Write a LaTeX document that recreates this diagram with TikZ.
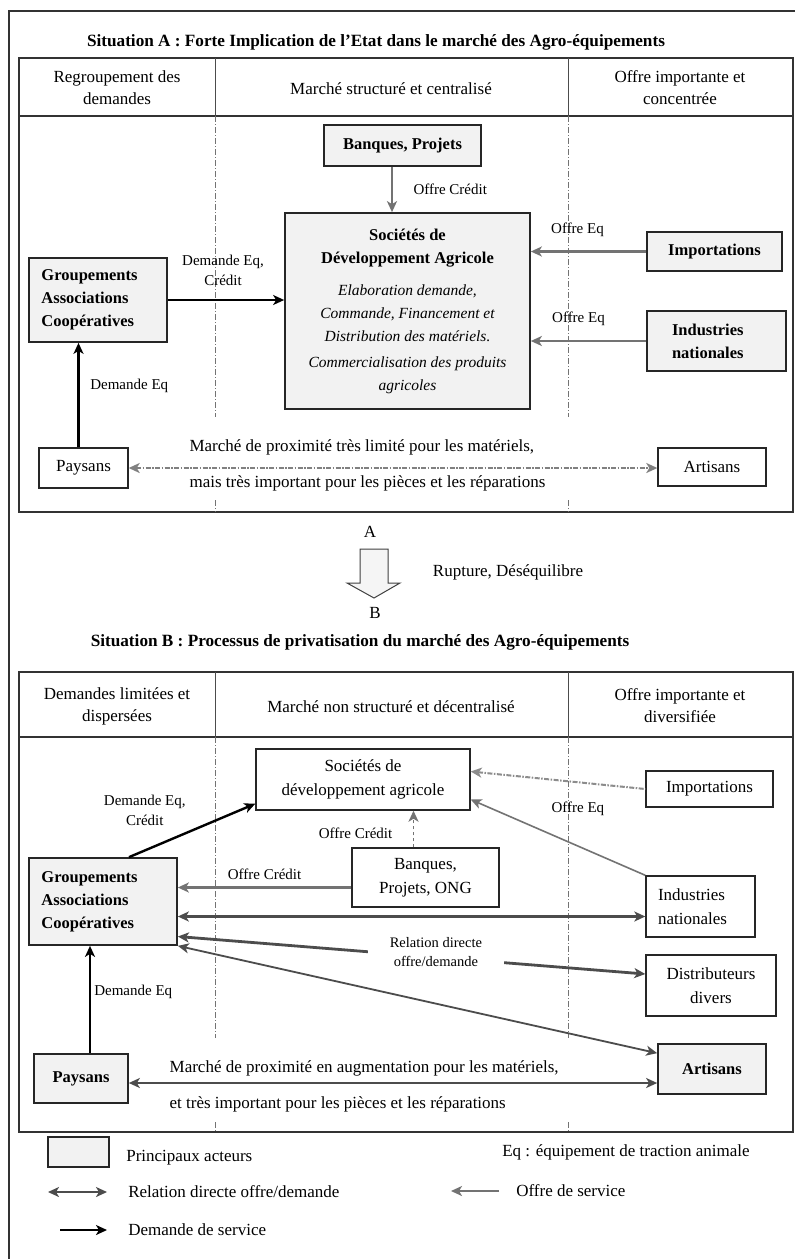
\documentclass[tikz,border=0pt]{standalone}
\usepackage{fontspec}
\setmainfont{Liberation Serif}
\usetikzlibrary{positioning, arrows.meta}

\begin{document}
\begin{tikzpicture}[x=1pt, y=-1pt, semithick,
	tip/.tip={Stealth[length=11pt, width=10pt, inset=3pt]},
	actor/.style ={draw=black!85, line width=1.7pt, fill=black!5, inner sep=0pt, font=\fontsize{16.5}{23}\selectfont\bfseries},
	other/.style ={draw=black!85, line width=1.4pt, fill=white, inner sep=0pt, font=\fontsize{17}{24}\selectfont},
	head/.style ={align=center, font=\fontsize{17}{22}\selectfont},
	title/.style ={font=\fontsize{17.2}{20}\selectfont\bfseries},
	lbl/.style ={align=center, font=\fontsize{15}{20}\selectfont},
	txt/.style ={inner sep=0pt, font=\fontsize{17}{20}\selectfont},
	offre/.style ={-tip, draw=black!55, line width=2.4pt},
	dem/.style ={-tip, draw=black, line width=2.6pt},
	rel/.style ={tip-tip, draw=black!70, line width=2.4pt},
	col/.style ={draw=black!55, line width=0.8pt, dash pattern=on 6pt off 2pt on 1pt off 2pt},
	frame/.style ={draw=black!80, line width=1.6pt}]
	\path[use as bounding box, fill=white] (0,0) rectangle (795,1259);
	\draw[draw=black!80, line width=1.2pt] (9,1259) -- (9,11) -- (795,11);

	% Situation A
	\node[title] (titA) at (376,42) {Situation A : Forte Implication de l'Etat dans le marché des Agro-équipements};
	\draw[frame] (19,58) rectangle (793,512);
	\draw[frame] (19,116) -- (793,116);
	\draw[draw=black!70, line width=1pt] (215,58) -- (215,116) (568,58) -- (568,116);
	\draw[col] (215,116) -- (215,417) (215,500) -- (215,512);
	\draw[col] (568,116) -- (568,417) (568,500) -- (568,512);
	\node[head] (hA1) at (117,88) {Regroupement des\\demandes};
	\node[head] (hA2) at (391,89) {Marché structuré et centralisé};
	\node[head] (hA3) at (680,88) {Offre importante et\\concentrée};

	\node[actor, minimum width=157pt, minimum height=41pt] (banqA) at (402.5,145.5) {Banques, Projets};
	\node[actor, minimum width=245pt, minimum height=196pt, align=center] (socA) at (407.5,311)
		{Sociétés de\\Développement Agricole\\[9pt]
		{\mdseries\itshape\fontsize{15.5}{22}\selectfont Elaboration demande,}\\
		{\mdseries\itshape\fontsize{15.5}{22}\selectfont Commande, Financement et}\\
		{\mdseries\itshape\fontsize{15.5}{22}\selectfont Distribution des matériels.}\\[3pt]
		{\mdseries\itshape\fontsize{15.5}{22}\selectfont Commercialisation des produits}\\
		{\mdseries\itshape\fontsize{15.5}{22}\selectfont agricoles}};
	\node[actor, minimum width=135pt, minimum height=39pt] (impA) at (714.5,251.5) {Importations};
	\node[actor, minimum width=139pt, minimum height=60pt, text width=89pt, align=left] (indA) at (716.5,341) {Industries\\nationales};
	\node[actor, minimum width=138pt, minimum height=84pt, text width=113pt, align=left] (grpA) at (98,300) {Groupements\\Associations\\Coopératives};
	\node[other, minimum width=89pt, minimum height=40pt] (payA) at (83.5,468) {Paysans};
	\node[other, minimum width=108pt, minimum height=38pt] (artA) at (712,467) {Artisans};

	\draw[offre] ([xshift=-10.5pt]banqA.south) -- ([xshift=-10.5pt]banqA.south |- socA.north)
		node[lbl, midway, right=17pt] (lOCA) {Offre Crédit};
	\draw[offre] (impA.west) -- (impA.west -| socA.east)
		node[lbl, midway, above=10pt, xshift=-11pt] (lOEA1) {Offre Eq};
	\draw[offre] (indA.west) -- (indA.west -| socA.east)
		node[lbl, midway, above=11pt, xshift=-10pt] (lOEA2) {Offre Eq};
	\draw[dem] (grpA.east) -- (grpA.east -| socA.west)
		node[lbl, midway, above=10pt, xshift=-3pt] (lDEA) {Demande Eq,\\Crédit};
	\draw[dem, line width=3pt] ([xshift=-5pt]payA.north) -- ([xshift=-5pt]payA.north |- grpA.south)
		node[lbl, midway, right=7pt, yshift=9pt] (lDA) {Demande Eq};
	\draw[tip-tip, draw=black!50, line width=2.2pt, dash pattern=on 5pt off 1.5pt on 1.5pt off 1.5pt]
		(payA.east) -- (payA.east -| artA.west)
		node[txt, pos=0.113, anchor=base west, yshift=17pt] (mA1) {Marché de proximité très limité pour les matériels,}
		node[txt, pos=0.113, anchor=base west, yshift=-19pt] (mA2) {mais très important pour les pièces et les réparations};

	% A vers B
	\node[txt] (lA) at (370,532) {A};
	\draw[draw=black!75, line width=1pt, fill=black!4] (360,549) -- (388,549) -- (388,583) -- (400,583)
		-- (374,598) -- (347,583) -- (360,583) -- cycle;
	\node[txt] (rup) at (508,572) {Rupture, Déséquilibre};
	\node[txt] (lB) at (375,613) {B};

	% Situation B
	\node[title] (titB) at (360,642) {Situation B : Processus de privatisation du marché des Agro-équipements};
	\draw[frame] (19,672) rectangle (793,1132);
	\draw[frame] (19,737) -- (793,737);
	\draw[draw=black!70, line width=1pt] (215,672) -- (215,737) (568,672) -- (568,737);
	\draw[col] (215,737) -- (215,1038) (215,1122) -- (215,1132);
	\draw[col] (568,737) -- (568,1038) (568,1122) -- (568,1132);
	\node[head] (hB1) at (117,706) {Demandes limitées et\\dispersées};
	\node[head] (hB2) at (391,707) {Marché non structuré et décentralisé};
	\node[head] (hB3) at (680,706) {Offre importante et\\diversifiée};

	\node[other, minimum width=214pt, minimum height=61pt, align=center] (socB) at (363,779.5) {Sociétés de\\développement agricole};
	\node[other, minimum width=127pt, minimum height=36pt] (impB) at (709.5,789) {Importations};
	\node[other, minimum width=147pt, minimum height=59pt, align=center] (banqB) at (425.5,877.5) {Banques,\\Projets, ONG};
	\node[actor, minimum width=148pt, minimum height=87pt, text width=123pt, align=left] (grpB) at (103,901.5) {Groupements\\Associations\\Coopératives};
	\node[other, minimum width=109pt, minimum height=61pt, text width=85pt, align=left] (indB) at (700.5,906.5) {Industries\\nationales};
	\node[other, minimum width=130pt, minimum height=61pt, align=center] (disB) at (711,985.5) {Distributeurs\\divers};
	\node[actor, minimum width=94pt, minimum height=49pt] (payB) at (81,1078.5) {Paysans};
	\node[actor, minimum width=108pt, minimum height=50pt] (artB) at (712,1069) {Artisans};

	\draw[tip-, draw=black!45, line width=2pt, dash pattern=on 5pt off 1.5pt on 1.5pt off 1.5pt]
		([yshift=8pt]socB.east) -- (impB.west)
		node[lbl, pos=0.614, below=15pt] (lOEB) {Offre Eq};
	\draw[offre, line width=1.6pt] (indB.north west) -- ([yshift=-20pt]socB.east);
	\draw[dem, line width=2.4pt] ([xshift=26pt]grpB.north) -- ([yshift=7pt]socB.south west)
		node[lbl, midway, anchor=south east, xshift=-2pt] (lDEB) {Demande Eq,\\Crédit};
	\draw[offre, line width=1.8pt, dashed] ([xshift=-12pt]banqB.north) -- ([xshift=-12pt]banqB.north |- socB.south)
		node[lbl, midway, left=17pt, yshift=-4pt] (lOCB1) {Offre Crédit};
	\draw[offre] ([yshift=-10pt]banqB.west) -- ([yshift=-10pt]banqB.west -| grpB.east)
		node[lbl, midway, above=3pt] (lOCB2) {Offre Crédit};
	\draw[rel, line width=2.8pt] ([yshift=-15pt]grpB.east) -- ([yshift=-15pt]grpB.east -| indB.west);
	\draw[rel, line width=2.8pt] ([yshift=-35pt]grpB.east) -- ([yshift=11.5pt]disB.west)
		node[lbl, pos=0.552, yshift=5pt, fill=white, inner xsep=22pt, font=\fontsize{14.5}{19}\selectfont] (lRel) {Relation directe\\offre/demande};
	\draw[rel, line width=1.8pt] (grpB.south east) -- ([yshift=-10pt]artB.north west);
	\draw[dem, line width=2pt] ([xshift=9pt]payB.north) -- ([xshift=9pt]payB.north |- grpB.south)
		node[lbl, midway, right=0pt, yshift=7.5pt] (lDB) {Demande Eq};
	\draw[rel] ([yshift=-4.5pt]payB.east) -- ([yshift=-4.5pt]payB.east -| artB.west)
		node[txt, pos=0.075, anchor=base west, yshift=11pt] (mB1) {Marché de proximité en augmentation pour les matériels,}
		node[txt, pos=0.075, anchor=base west, yshift=-25pt] (mB2) {et très important pour les pièces et les réparations};

	% legende
	\node[actor, minimum width=61pt, minimum height=30pt] (lgA) at (78.5,1152) {};
	\node[txt, anchor=west] (lgAt) at (126,1158) {Principaux acteurs};
	\node[txt, anchor=west] (lgEq) at (502,1152) {Eq : équipement de traction animale};
	\coordinate (r1) at (48,1192);
	\coordinate (r2) at (107,1192);
	\draw[rel, line width=2.8pt] (r1) -- (r2);
	\node[txt, anchor=west] (lgR) at (128,1192) {Relation directe offre/demande};
	\coordinate (o1) at (499,1191);
	\coordinate (o2) at (451,1191);
	\draw[offre, line width=2.6pt] (o1) -- (o2);
	\node[txt, anchor=west] (lgO) at (516,1191) {Offre de service};
	\coordinate (d1) at (60,1230);
	\coordinate (d2) at (107,1230);
	\draw[dem, line width=2.2pt] (d1) -- (d2);
	\node[txt, anchor=west] (lgD) at (128,1230) {Demande de service};
\end{tikzpicture}
\end{document}
